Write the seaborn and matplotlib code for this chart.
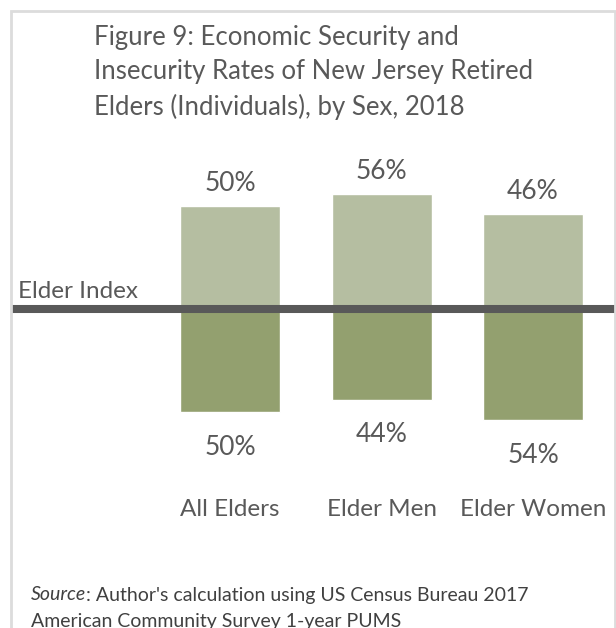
import pandas as pd
import numpy as np
import matplotlib.pyplot as plt
import seaborn as sns
from matplotlib.patches import Rectangle

groups = ["All Elders", "Elder Men", "Elder Women"]
secure = [50, 56, 46]
insecure = [50, 44, 54]

sns.set_style("white")
plt.rcParams["font.family"] = ["Lato", "DejaVu Sans"]
grey = "#595959"

df = pd.DataFrame({
    "group": groups * 2,
    "kind": ["Secure"] * 3 + ["Insecure"] * 3,
    "value": secure + [-v for v in insecure],
})

W, H = 616, 628
fig = plt.figure(figsize=(W / 100, H / 100), dpi=100)

# light grey frame around the figure area
fig.patches.append(Rectangle((11 / W, -0.1), (615 - 11) / W, 1.1 - 11 / H,
                             transform=fig.transFigure, fill=False,
                             edgecolor="#dcdcdc", lw=2))

ax = fig.add_axes([11 / W, (H - 490) / H, 605 / W, 330 / H])
sns.barplot(data=df, x="group", y="value", hue="kind", dodge=False,
            palette={"Secure": "#b5bea1", "Insecure": "#93a06f"},
            width=0.66, legend=False, ax=ax, saturation=1)

ax.set_xlim(-1.446, 2.548)
ax.set_ylim(-87.9, 72.3)
ax.axhline(0, color=grey, lw=5.8, zorder=5)

ax.bar_label(ax.containers[0], labels=[f"{v}%" for v in secure],
             padding=7, fontsize=19, color=grey)
ax.bar_label(ax.containers[1], labels=[f"{v}%" for v in insecure],
             padding=16.5, fontsize=19, color=grey)

sns.despine(ax=ax, left=True, bottom=True)
ax.set_yticks([])
ax.set_xlabel("")
ax.set_ylabel("")
ax.tick_params(axis="x", length=0, pad=6.5, labelsize=17.5, labelcolor=grey)

ax.text(18 / W, (H - 292) / H, "Elder Index", transform=fig.transFigure,
        fontsize=17.5, color=grey, va="center", ha="left")

fig.text(94 / W, 1 - 25 / H,
         "Figure 9: Economic Security and\nInsecurity Rates of New Jersey Retired\nElders (Individuals), by Sex, 2018",
         fontsize=18.5, color=grey, va="top", ha="left", linespacing=1.45)

src = fig.text(31 / W, (H - 595) / H, "Source", fontsize=14, color="#404040",
               style="italic", va="center", ha="left")
plt.annotate(": Author's calculation using US Census Bureau 2017", xy=(1, 0.5),
             xycoords=src, va="center", ha="left", fontsize=14, color="#404040")
fig.text(31 / W, (H - 621) / H, "American Community Survey 1-year PUMS",
         fontsize=14, color="#404040", va="center", ha="left")

fig.savefig("out.png", dpi=100)
